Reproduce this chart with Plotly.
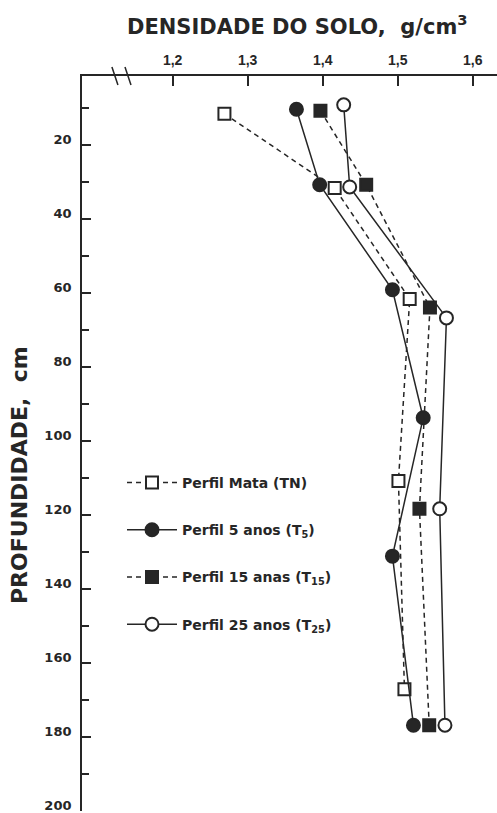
import plotly.graph_objects as go

# Data (density g/cm3 vs depth cm)
tn_density = [1.269, 1.416, 1.516, 1.501, 1.509]
tn_depth = [11.5, 31.6, 61.6, 110.8, 167.1]

t5_density = [1.365, 1.396, 1.493, 1.534, 1.493, 1.521]
t5_depth = [10.3, 30.7, 59.1, 93.7, 131.1, 176.8]

t15_density = [1.397, 1.458, 1.543, 1.529, 1.542]
t15_depth = [10.7, 30.7, 63.9, 118.3, 176.8]

t25_density = [1.428, 1.436, 1.565, 1.556, 1.563]
t25_depth = [9.1, 31.3, 66.7, 118.3, 176.8]

x_ticks = [1.2, 1.3, 1.4, 1.5, 1.6]
y_ticks = [20, 40, 60, 80, 100, 120, 140, 160, 180, 200]

INK = "#262626"
FONT = "DejaVu Sans"

fig = go.Figure()

def add(name, x, y, symbol, filled, dash, group):
    fig.add_trace(go.Scatter(
        x=x, y=y, name=name, mode="lines+markers", legendgroup=group,
        line=dict(color=INK, width=1.5, dash=dash),
        marker=dict(symbol=symbol, size=13 if symbol == "circle" else 12,
                    color=INK if filled else "white",
                    line=dict(color=INK, width=2)),
    ))

add("Perfil Mata (TN)", tn_density, tn_depth, "square", False, "5px,4px", "a")
add("Perfil 5 anos (T<sub>5</sub>)", t5_density, t5_depth, "circle", True, "solid", "b")
add("Perfil 15 anas (T<sub>15</sub>)", t15_density, t15_depth, "square", True, "5px,4px", "c")
add("Perfil 25 anos (T<sub>25</sub>)", t25_density, t25_depth, "circle", False, "solid", "d")

L, T, B = 82, 76, 2
PW, PH = 497 - L, 813 - T - B

fig.update_layout(
    width=497, height=813,
    margin=dict(l=L, r=0, t=T, b=B, autoexpand=False),
    paper_bgcolor="white", plot_bgcolor="white",
    separators=",.",
    font=dict(family=FONT, color=INK),
    showlegend=True,
    legend=dict(
        x=(122 - L) / PW, y=1 - (467 - T) / PH, xanchor="left", yanchor="top",
        bgcolor="rgba(0,0,0,0)", traceorder="grouped", tracegroupgap=26,
        itemwidth=50,
        font=dict(family=FONT, size=14, color=INK, weight="bold"),
    ),
    xaxis=dict(
        side="top", range=[1.0791, 1.6324], automargin=False,
        showgrid=False, zeroline=False,
        showline=True, linecolor=INK, linewidth=1.8,
        ticks="inside", ticklen=10, tickwidth=1.5, tickcolor=INK,
        tickvals=x_ticks, tickformat=".1f",
        ticklabelstandoff=4,
        tickfont=dict(family="Liberation Sans", size=14, color=INK, weight="bold"),
    ),
    yaxis=dict(
        range=[200, 1.3], automargin=False,
        showgrid=False, zeroline=False,
        showline=True, linecolor=INK, linewidth=1.8,
        ticks="inside", ticklen=9, tickwidth=1.5, tickcolor=INK,
        tickvals=y_ticks,
        minor=dict(dtick=10, ticks="inside", ticklen=7, tickwidth=1.5, tickcolor=INK),
        tickfont=dict(family=FONT, size=13, color=INK, weight="bold"),
        ticklabelstandoff=6,
        ticklabelshift=6,
        ticklabeloverflow="allow",
    ),
    annotations=[
        dict(text="DENSIDADE DO SOLO,  g/cm<sup>3</sup>", xref="paper", yref="paper",
             x=(297 - L) / PW, y=1 + (T - 25) / PH, xanchor="center", yanchor="middle",
             showarrow=False,
             font=dict(family=FONT, size=21, color=INK, weight="bold")),
        dict(text="PROFUNDIDADE,  cm", xref="paper", yref="paper", textangle=-90,
             x=(20 - L) / PW, y=1 - (475 - T) / PH, xanchor="center", yanchor="middle",
             showarrow=False,
             font=dict(family=FONT, size=22, color=INK, weight="bold")),
    ],
)

# axis break mark on the top axis
for xv in [1.123, 1.1404]:
    fig.add_shape(type="line", xref="x", yref="paper",
                  xsizemode="pixel", ysizemode="pixel",
                  xanchor=xv, yanchor=1.0,
                  x0=-3, x1=3, y0=9, y1=-9,
                  line=dict(color=INK, width=1.5))

fig.write_html("out.html",
               config={"displayModeBar": False},
               post_script="document.body.style.margin='0';document.body.style.overflow='hidden';")
